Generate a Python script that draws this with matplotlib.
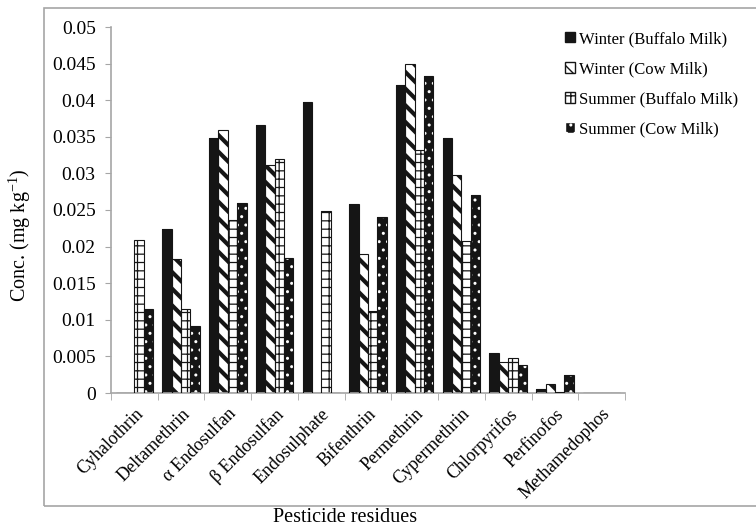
import numpy as np
import matplotlib
matplotlib.use("Agg")
import matplotlib.pyplot as plt
from matplotlib.patches import Rectangle, Patch

plt.rcParams['font.family'] = ['Liberation Serif', 'DejaVu Serif']
plt.rcParams['mathtext.fontset'] = 'custom'
plt.rcParams['mathtext.rm'] = 'Liberation Serif'
plt.rcParams['mathtext.it'] = 'Liberation Serif:italic'

# data
pesticides = ["Cyhalothrin", "Deltamethrin", "\u03b1 Endosulfan", "\u03b2 Endosulfan",
              "Endosulphate", "Bifenthrin", "Permethrin", "Cypermethrin",
              "Chlorpyrifos", "Perfinofos", "Methamedophos"]
winter_buffalo = [0, 0.0224, 0.0349, 0.0366, 0.0397, 0.0258, 0.0421, 0.0349, 0.0055, 0.0005, 0]
winter_cow = [0, 0.0183, 0.0359, 0.0311, 0, 0.0190, 0.0449, 0.0298, 0.0043, 0.0012, 0]
summer_buffalo = [0.0209, 0.0115, 0.0236, 0.0319, 0.0249, 0.0112, 0.0332, 0.0208, 0.0048, 0.0002, 0]
summer_cow = [0.0115, 0.0091, 0.0259, 0.0184, 0, 0.0240, 0.0433, 0.0270, 0.0038, 0.0024, 0]
series_names = ["Winter (Buffalo Milk)", "Winter (Cow Milk)",
                "Summer (Buffalo Milk)", "Summer (Cow Milk)"]

fig = plt.figure(figsize=(7.56, 5.3), dpi=100)
ax = fig.add_axes([111/756, (530-393)/530, (625-111)/756, (393-27)/530])

x = np.arange(len(pesticides))
w = 0.2
gray = "#a6a6a6"

# (face, hatch colour, hatch, hatch lw)
styles = [("#151515", "#151515", None, 1.0),
          ("white", "#151515", "\\\\", 3.0),
          ("white", "#151515", "++", 0.9),
          ("#151515", "white", "..", 1.0)]
data = [winter_buffalo, winter_cow, summer_buffalo, summer_cow]

for i, (vals, (fc, hc, hatch, hlw)) in enumerate(zip(data, styles)):
    pos = x + (i - 1.5) * w
    with plt.rc_context({'hatch.linewidth': hlw}):
        bars = ax.bar(pos, vals, w, color=fc, edgecolor=hc, hatch=hatch, linewidth=0, zorder=2)
        for b in bars:
            try:
                b.set_hatch_linewidth(hlw)
            except AttributeError:
                pass
    # outline
    ax.bar(pos, vals, w, facecolor="none", edgecolor="#151515", linewidth=0.8, zorder=3)

ax.set_xlim(-0.5, len(pesticides) - 0.5)
ax.set_ylim(0, 0.05)
ax.set_yticks(np.arange(0, 0.0501, 0.005))
ax.set_yticklabels(["0", "0.005", "0.01", "0.015", "0.02", "0.025", "0.03",
                    "0.035", "0.04", "0.045", "0.05"])
ax.set_xticks(x)
ax.set_xticklabels(pesticides, rotation=45, ha="right", rotation_mode="anchor")
ax.set_xticks(np.arange(-0.5, len(pesticides)), minor=True)
ax.tick_params(axis="x", which="major", length=0, pad=9, labelsize=13)
ax.tick_params(axis="x", which="minor", length=5, color=gray)
ax.tick_params(axis="y", length=4, color=gray, labelsize=14, pad=7)

for s in ["top", "right"]:
    ax.spines[s].set_visible(False)
for s in ["left", "bottom"]:
    ax.spines[s].set_color(gray)
    ax.spines[s].set_linewidth(1.2)

handles = []
for fc, hc, hatch, hlw in styles:
    handles.append(Patch(facecolor=fc, edgecolor=hc if hatch else "#151515", hatch=hatch))
leg = fig.legend(handles, series_names, loc="upper left",
                 bbox_to_anchor=(550/756, (530-16)/530), frameon=False,
                 fontsize=12, handlelength=0.6, handleheight=0.6,
                 handletextpad=0.25, labelspacing=0.85)

# chart area border
fig.patches.append(Rectangle((44/756, (530-506)/530), 1.0, (506-8)/530,
                             transform=fig.transFigure, fill=False,
                             edgecolor=gray, linewidth=1.2))

fig.text(20/756, (530-235)/530, "Conc. (mg kg$^{-1}$)", rotation=90,
         ha="center", va="center", fontsize=14.5)
fig.text(345/756, (530-518)/530, "Pesticide residues", ha="center",
         va="center", fontsize=14.5)

fig.savefig("out.png", dpi=100)
